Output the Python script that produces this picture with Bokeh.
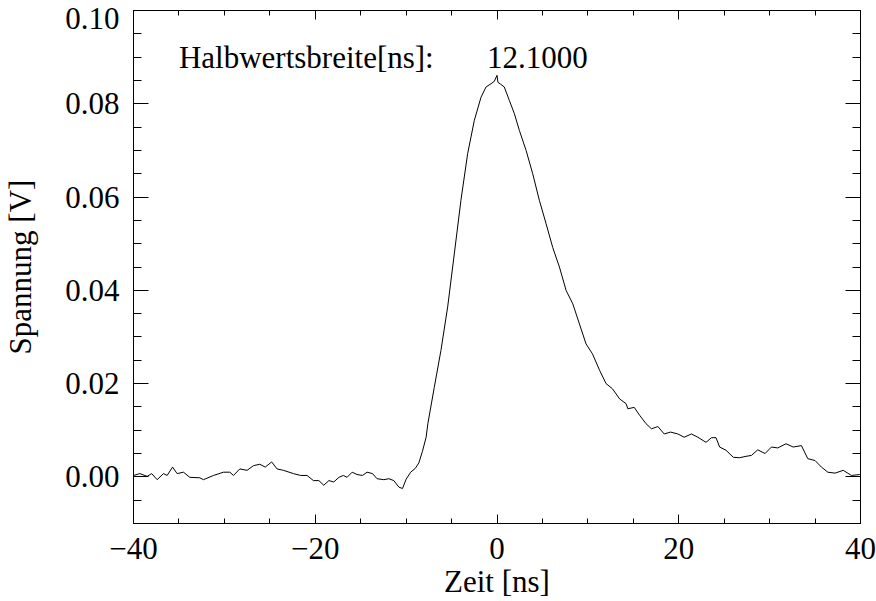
from bokeh.plotting import figure
from bokeh.models import LinearAxis, FixedTicker, Range1d, Label, CustomJSTickFormatter
from bokeh.embed import file_html
from bokeh.resources import INLINE

# ---- data (time in ns, voltage in V) ----
zeit = [-40.0, -39.3, -38.5, -38.0, -37.4, -36.7, -36.3, -35.7, -35.2, -34.5,
        -33.8, -32.7, -32.3, -31.2, -30.1, -29.4, -29.0, -28.3, -27.5, -26.8,
        -26.1, -25.5, -24.8, -24.2, -23.5, -22.4, -21.6, -20.9, -20.2, -19.6,
        -19.06, -18.5, -17.96, -17.4, -16.9, -16.5, -15.94, -15.4, -14.8, -14.3,
        -13.7, -13.2, -12.45, -11.9, -11.35, -10.8, -10.4, -10.0, -9.5, -9.0,
        -8.6, -8.2, -7.8, -7.6, -6.9, -6.17, -5.43, -4.7, -3.97, -3.23,
        -2.5, -1.76, -1.21, -0.66, -0.3, 0.0, 0.1, 0.4, 0.8, 1.36,
        1.91, 2.46, 3.2, 3.93, 4.66, 5.4, 6.13, 6.87, 7.6, 8.34,
        9.07, 9.8, 10.5, 11.3, 12.0, 12.7, 13.5, 14.2, 14.4, 15.1,
        15.7, 16.4, 17.0, 17.7, 18.4, 19.1, 19.9, 20.6, 21.4, 22.1,
        23.0, 23.6, 24.1, 24.5, 25.2, 26.0, 26.7, 27.4, 28.0, 28.7,
        29.5, 30.2, 30.9, 31.8, 32.6, 33.5, 34.2, 35.0, 35.7, 36.4,
        37.2, 38.1, 39.0, 39.9, 40.0]
spannung = [0.0003, 0.0007, 0.0001, 0.0007, -0.0006, 0.0007, 0.0003, 0.0021, 0.0007, 0.0010,
            -0.0001, -0.0002, -0.0006, 0.0003, 0.0010, 0.0010, 0.0003, 0.0017, 0.0014, 0.0024,
            0.0027, 0.0021, 0.0032, 0.0017, 0.0014, 0.0007, 0.0003, 0.0003, -0.0008, -0.0008,
            -0.0018, -0.0008, -0.0011, -0.0001, 0.0003, -0.0001, 0.0010, 0.0005, 0.0003, 0.0010,
            0.0007, -0.0004, -0.0006, -0.0004, -0.0008, -0.0022, -0.0025, -0.0005, 0.0010, 0.0018,
            0.0030, 0.0055, 0.0085, 0.0115, 0.0192, 0.0271, 0.0364, 0.0478, 0.0593, 0.0693,
            0.0764, 0.0814, 0.0836, 0.0843, 0.0848, 0.0861, 0.0846, 0.0842, 0.0836, 0.0807,
            0.0779, 0.0743, 0.0700, 0.0650, 0.0593, 0.0543, 0.0492, 0.0450, 0.0400, 0.0371,
            0.0328, 0.0285, 0.0264, 0.0228, 0.0200, 0.0189, 0.0167, 0.0157, 0.0146, 0.0149,
            0.0132, 0.0114, 0.0103, 0.0108, 0.0092, 0.0096, 0.0092, 0.0085, 0.0092, 0.0085,
            0.0074, 0.0084, 0.0084, 0.0064, 0.0057, 0.0042, 0.0041, 0.0044, 0.0046, 0.0058,
            0.0050, 0.0064, 0.0062, 0.0071, 0.0064, 0.0067, 0.0039, 0.0035, 0.0021, 0.0010,
            0.0008, 0.0014, 0.0003, 0.0005, 0.0003]

x_major = [-40, -20, 0, 20, 40]
x_minor = [-35, -30, -25, -15, -10, -5, 5, 10, 15, 25, 30, 35]
x_labels = {-40: "\u221240", -20: "\u221220", 0: "0", 20: "20", 40: "40"}
y_major = [0.0, 0.02, 0.04, 0.06, 0.08, 0.10]
y_minor = [-0.005, 0.005, 0.01, 0.015, 0.025, 0.03, 0.035, 0.045, 0.05, 0.055,
           0.065, 0.07, 0.075, 0.085, 0.09, 0.095]

note_text = "Halbwertsbreite[ns]:"
note_value = "12.1000"

FONT = "Liberation Serif"
FS = "31px"

p = figure(width=876, height=601, x_range=Range1d(-40, 40), y_range=Range1d(-0.01, 0.10),
           output_backend="svg", toolbar_location=None)
p.min_border_left = 133
p.min_border_right = 16
p.min_border_top = 10
p.min_border_bottom = 78
p.grid.visible = False
p.outline_line_color = "black"
p.outline_line_width = 1
p.background_fill_color = "white"
p.border_fill_color = "white"

p.line(zeit, spannung, line_color="black", line_width=1)

xt = FixedTicker(ticks=x_major, minor_ticks=x_minor)
yt = FixedTicker(ticks=y_major, minor_ticks=y_minor)


def style(ax, xaxis):
    ax.axis_line_color = "black"
    ax.major_tick_line_color = "black"
    ax.minor_tick_line_color = "black"
    ax.major_tick_out = 0
    ax.minor_tick_out = 0
    if xaxis:
        ax.major_tick_in = 9
        ax.minor_tick_in = 5
    else:
        ax.major_tick_in = 15
        ax.minor_tick_in = 8
    ax.major_label_text_font = FONT
    ax.major_label_text_font_size = FS
    ax.major_label_text_color = "black"
    ax.axis_label_text_font = FONT
    ax.axis_label_text_font_size = FS
    ax.axis_label_text_font_style = "normal"
    ax.axis_label_text_color = "black"


xa = p.xaxis[0]
xa.ticker = xt
xa.major_label_overrides = x_labels
xa.axis_label = "Zeit [ns]"
style(xa, True)
xa.major_label_standoff = 14
xa.axis_label_standoff = 2

ya = p.yaxis[0]
ya.ticker = yt
# the top label (0.10) sits a little lower than its tick, as in the reference
ya.formatter = CustomJSTickFormatter(code="return tick > 0.0999 ? '\\n' + tick.toFixed(2) : tick.toFixed(2);")
ya.major_label_text_line_height = 0.0
ya.axis_label = "Spannung [V]"
style(ya, False)
ya.major_label_standoff = 14
ya.axis_label_standoff = 24

blank = CustomJSTickFormatter(code="return '';")

top = LinearAxis(ticker=xt, formatter=blank)
style(top, True)
top.major_label_text_font_size = "1px"
top.major_label_standoff = 0
p.add_layout(top, "above")

right = LinearAxis(ticker=yt, formatter=blank)
style(right, False)
right.major_label_text_font_size = "1px"
right.major_label_standoff = 0
p.add_layout(right, "right")

p.add_layout(Label(x=-35, y=0.090, text=note_text, text_font=FONT, text_font_size=FS,
                   text_color="black", text_baseline="alphabetic"))
p.add_layout(Label(x=-1.1, y=0.090, text=note_value, text_font=FONT, text_font_size=FS,
                   text_color="black", text_baseline="alphabetic"))

open("out.html", "w").write(file_html(p, INLINE))
